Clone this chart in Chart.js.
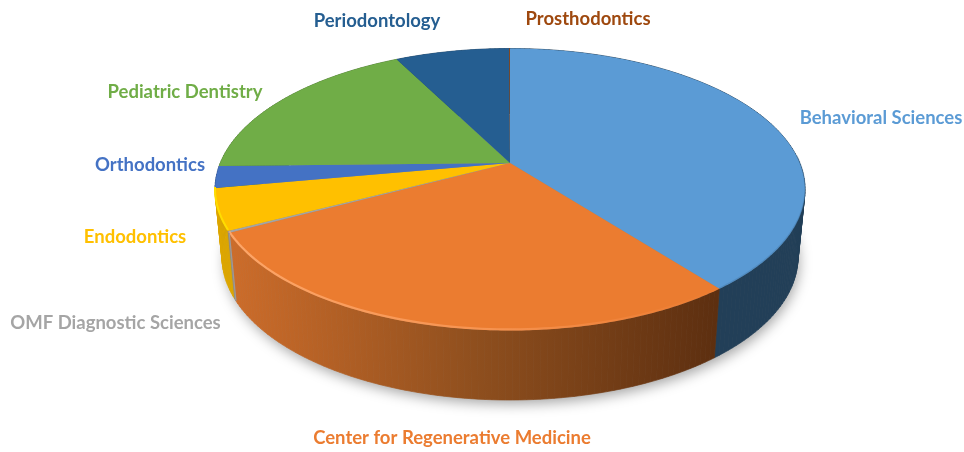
<!DOCTYPE html>
<html><head><meta charset="utf-8">
<style>html,body{margin:0;padding:0;background:#fff}canvas{display:block}</style>
<script src="https://cdn.jsdelivr.net/npm/chart.js@4"></script>
</head><body><canvas id="c" width="964" height="452"></canvas>
<script>
const categories = ["Behavioral Sciences","Center for Regenerative Medicine","OMF Diagnostic Sciences","Endodontics","Orthodontics","Pediatric Dentistry","Periodontology","Prosthodontics"];
const shares = [39.45,27.8,0.2,4.7,2.5,17.8,7.5,0.05];
const sliceColors = ["#5B9BD5","#EB7C30","#A5A5A5","#FFC000","#4472C4","#70AD47","#255E91","#9E480E"];
const wallColors = ["#223F58","#A8581F","#8A8A8A","#DDA600","#2F4F8A","#4E7A32","#1A4266","#6E320A"];

/* drawing geometry: the top face is a projected disc, the base a lower ellipse */
const TOP = {cx:510, cy:189.5, rx:295, ry:141};
const BASE = {cx:510, cy:257, rx:288, ry:143};
const APEX_Y = 163;
const LABEL_FONT = 'bold 18.5px Lato, sans-serif';
const LABEL_POS = [[881,118],[452,438],[115.5,323],[135,237],[150,165],[185,92],[377,21],[588,19]];

const k = (APEX_Y - TOP.cy) / TOP.ry;
const py = k / (1 + Math.sqrt(1 - k*k));
function unit(a){ // perspective map of a rim angle
  const x=Math.cos(a), y=Math.sin(a);
  const nr=x, ni=y+py;
  const dr=1+py*y, di=-py*x;
  const d=dr*dr+di*di;
  return [(nr*dr+ni*di)/d,(ni*dr-nr*di)/d];
}
const at=(e,a)=>{const u=unit(a);return [e.cx+e.rx*u[0], e.cy+e.ry*u[1]];};

function facePath(ctx,start,end){
  ctx.beginPath();
  ctx.moveTo(TOP.cx,APEX_Y);
  const n=Math.max(2,Math.ceil((end-start)/0.01));
  for(let i=0;i<=n;i++){const p=at(TOP,start+(end-start)*i/n);ctx.lineTo(p[0],p[1]);}
  ctx.closePath();
}
Chart.ArcElement.prototype.draw=function(ctx){
  const col=this.options.backgroundColor;
  ctx.save();
  facePath(ctx,this.startAngle,this.endAngle);
  ctx.fillStyle=col;ctx.fill();
  ctx.restore();
};
function orangeWall(ctx){
  const g=ctx.createLinearGradient(233,0,716,0);
  g.addColorStop(0,'#CC6C2A');g.addColorStop(0.5,'#8F4F1E');g.addColorStop(1,'#5D2F10');
  return g;
}
const pie3d={
  id:'pie3d',
  beforeDatasetsDraw(chart){
    const ctx=chart.ctx, arcs=chart.getDatasetMeta(0).data;
    // soft floor shadow
    ctx.save();
    ctx.shadowColor='rgba(0,0,0,0.36)';ctx.shadowBlur=13;ctx.shadowOffsetY=5;ctx.shadowOffsetX=2;
    ctx.fillStyle='#888';
    ctx.beginPath();ctx.ellipse(BASE.cx,BASE.cy,BASE.rx-1,BASE.ry-1,0,0,Math.PI*2);ctx.fill();
    ctx.restore();
    // side walls
    const segs=[];
    arcs.forEach((arc,i)=>{
      const n=Math.max(1,Math.ceil((arc.endAngle-arc.startAngle)/0.02));
      for(let j=0;j<n;j++){
        const a0=arc.startAngle+(arc.endAngle-arc.startAngle)*j/n;
        const a1=arc.startAngle+(arc.endAngle-arc.startAngle)*(j+1)/n;
        segs.push({i,a0,a1,y:Math.sin((a0+a1)/2)});
      }
    });
    segs.sort((s,t)=>s.y-t.y);
    const og=orangeWall(ctx);
    ctx.save();
    segs.forEach(s=>{
      const p=[at(TOP,s.a0),at(TOP,s.a1),at(BASE,s.a1),at(BASE,s.a0)];
      ctx.beginPath();ctx.moveTo(p[0][0],p[0][1]);
      for(let q=1;q<4;q++)ctx.lineTo(p[q][0],p[q][1]);
      ctx.closePath();
      const c=s.i===1?og:wallColors[s.i];
      ctx.fillStyle=c;ctx.strokeStyle=c;ctx.lineWidth=0.7;
      ctx.fill();ctx.stroke();
    });
    ctx.restore();
  },
  afterDatasetsDraw(chart){
    const ctx=chart.ctx, arcs=chart.getDatasetMeta(0).data;
    // bevel highlights along the front rim
    const rim=(a0,a1,c,w)=>{
      ctx.save();ctx.beginPath();
      const n=80;
      for(let j=0;j<=n;j++){
        const a=a0+(a1-a0)*j/n;
        const p=at(TOP,a);
        if(j)ctx.lineTo(p[0],p[1]-w/2);else ctx.moveTo(p[0],p[1]-w/2);
      }
      ctx.strokeStyle=c;ctx.lineWidth=w;ctx.stroke();ctx.restore();
    };
    const g=ctx.createLinearGradient(233,0,720,0);
    g.addColorStop(0,'rgba(255,170,110,0.9)');
    g.addColorStop(0.55,'rgba(255,165,105,0.55)');
    g.addColorStop(1,'rgba(255,150,90,0)');
    rim(arcs[1].startAngle,arcs[1].endAngle,g,2.2);
    rim(arcs[3].startAngle,arcs[3].endAngle,'#FFDD00',2);
    rim(-0.05,arcs[0].endAngle,'rgba(60,105,150,0.3)',1.4);
    // gray sliver continues down the wall edge
    const e=arcs[1].endAngle, a=at(TOP,e), b=at(BASE,e);
    ctx.save();ctx.strokeStyle='#9A9A9A';ctx.lineWidth=1.3;ctx.beginPath();ctx.moveTo(a[0],a[1]);ctx.lineTo(b[0],b[1]);ctx.stroke();ctx.restore();
    // labels
    ctx.save();ctx.font=LABEL_FONT;ctx.textAlign='center';ctx.textBaseline='middle';
    categories.forEach((t,i)=>{ctx.fillStyle=sliceColors[i];ctx.fillText(t,LABEL_POS[i][0],LABEL_POS[i][1]);});
    ctx.restore();
  }
};
new Chart(document.getElementById('c'),{
  type:'pie',
  data:{labels:categories,datasets:[{data:shares,backgroundColor:sliceColors,borderWidth:0}]},
  options:{responsive:false,animation:false,events:[],
    plugins:{legend:{display:false},tooltip:{enabled:false}}},
  plugins:[pie3d]
});
</script></body></html>
